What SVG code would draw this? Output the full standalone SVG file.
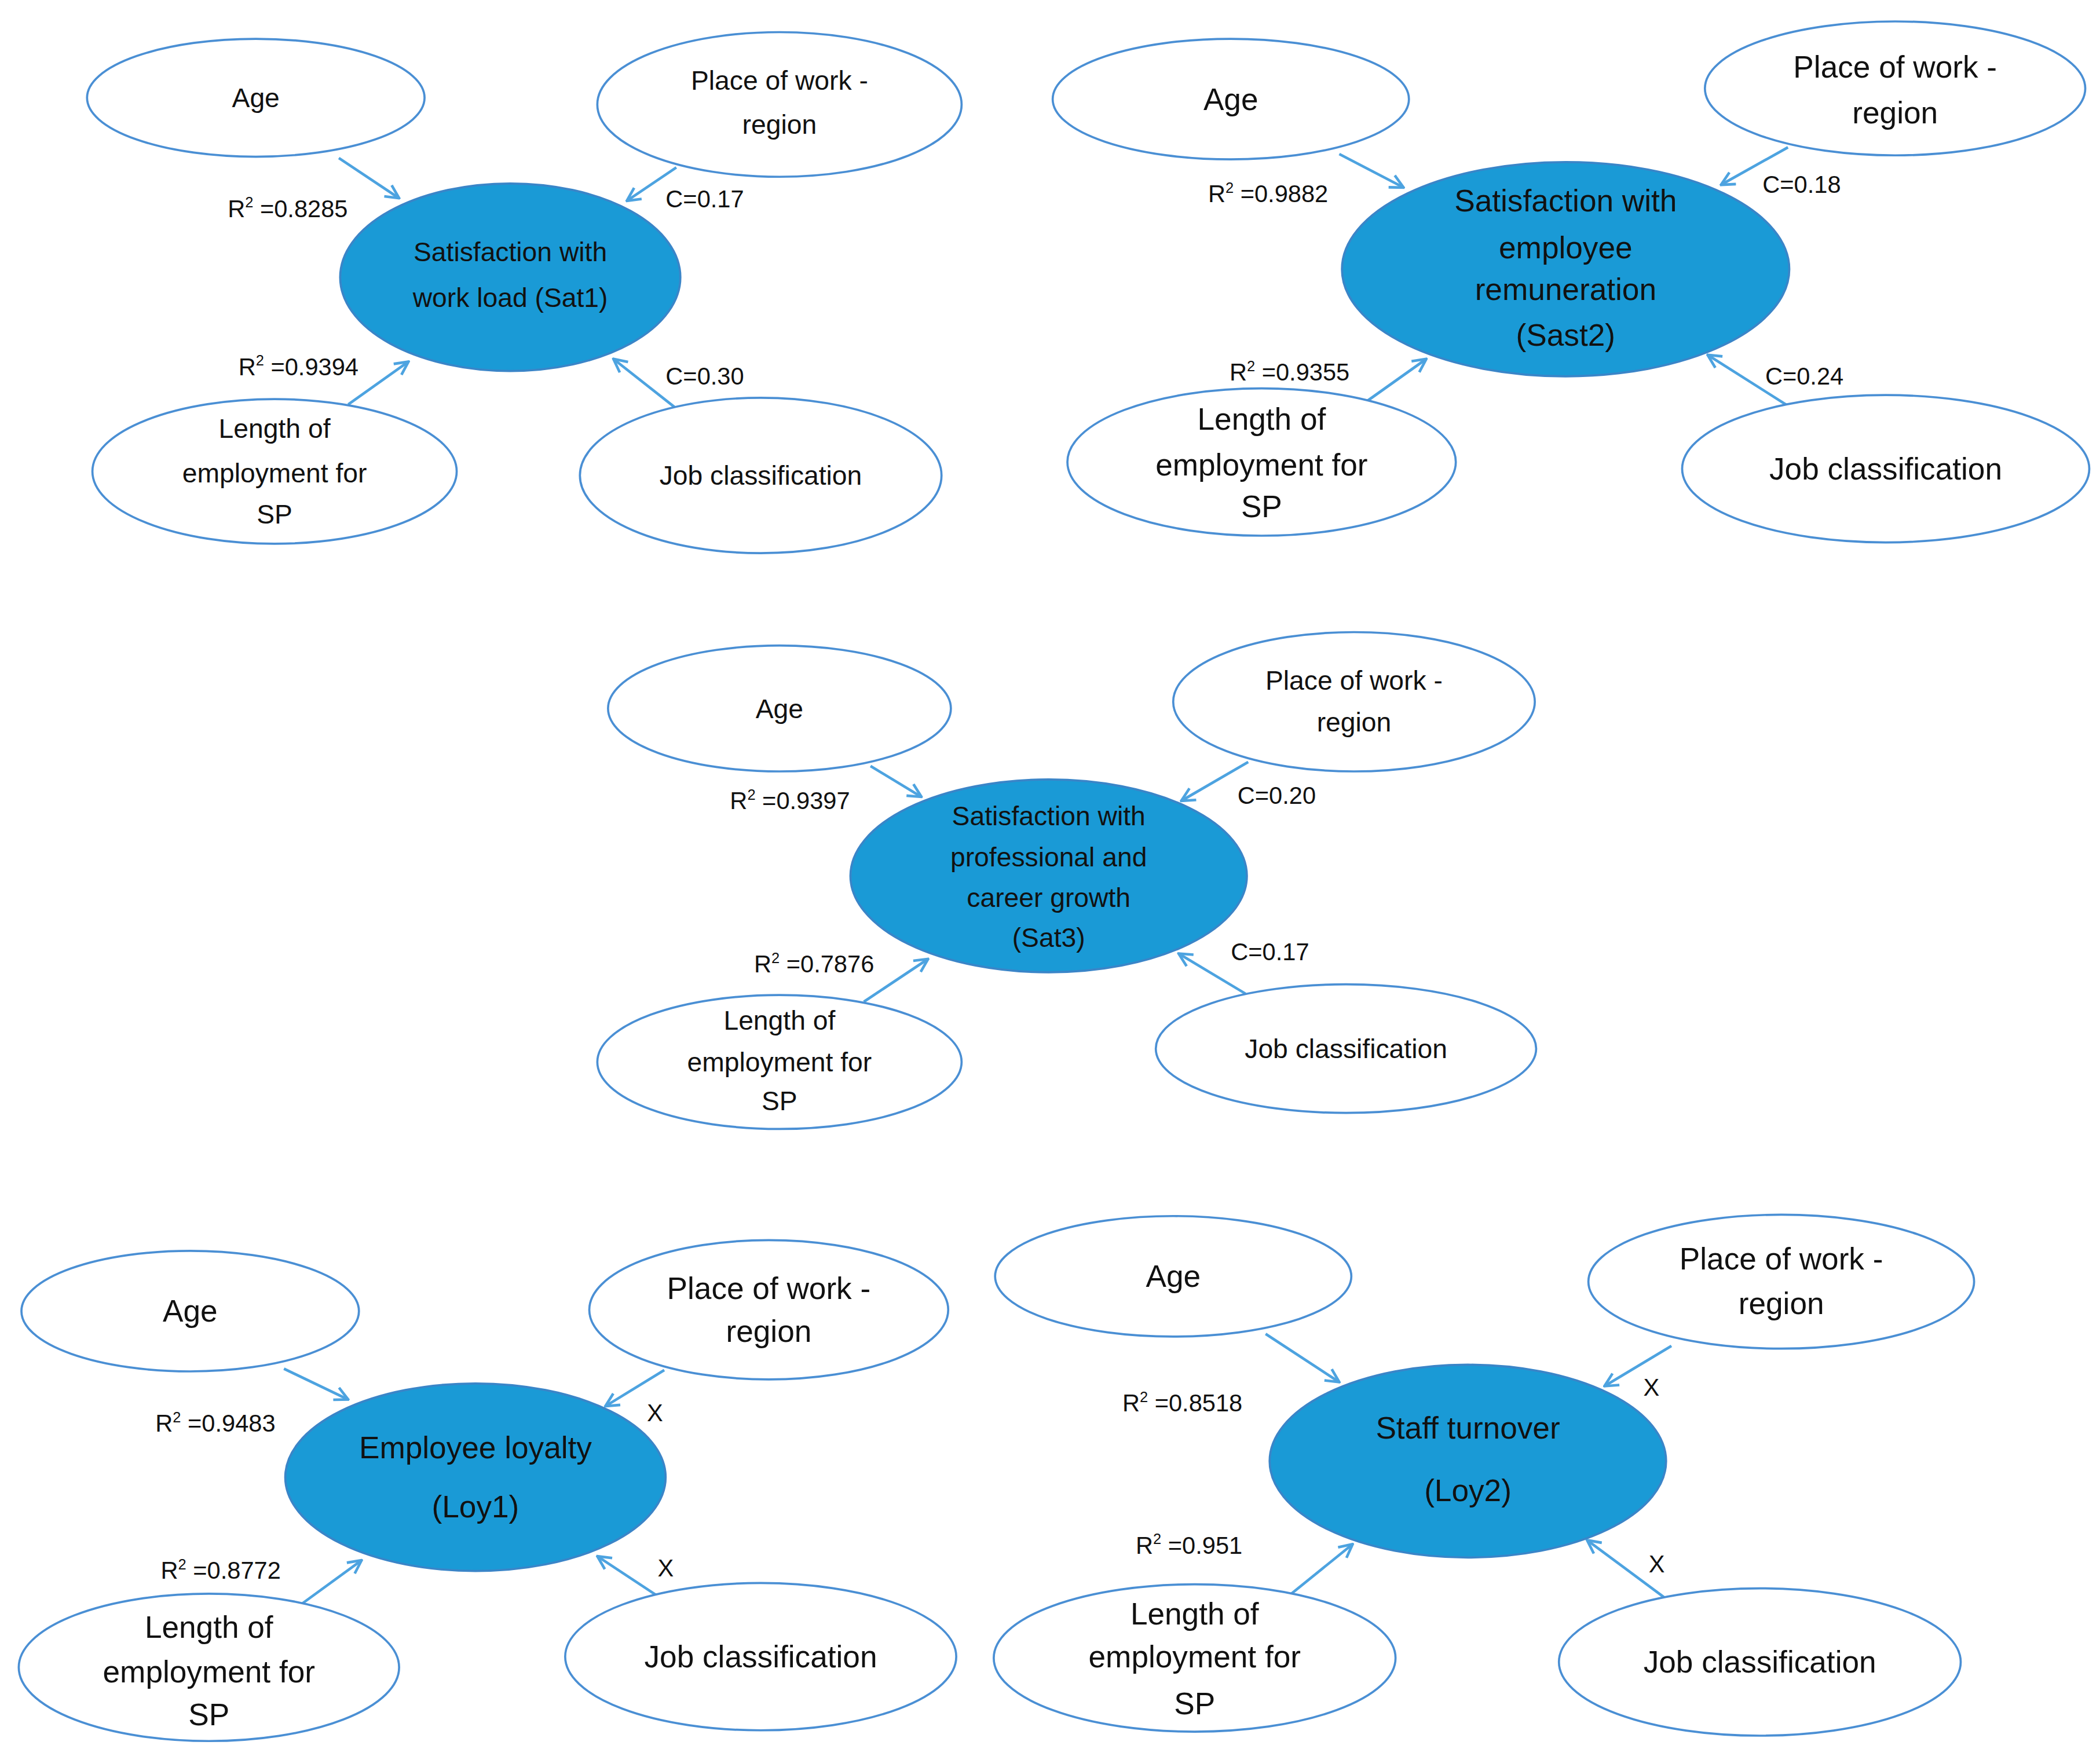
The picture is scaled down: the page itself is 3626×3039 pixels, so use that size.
<svg xmlns="http://www.w3.org/2000/svg" width="3626" height="3039" viewBox="0 0 3626 3039">
<style>
.o{fill:#fff;stroke:#4a8fd4;stroke-width:1.6}
.c{fill:#1a9ad6;stroke:#3a85c8;stroke-width:1.6}
text{font-family:"Liberation Sans",Arial,sans-serif;fill:#111;text-anchor:middle}
.s{font-size:20px}.b{font-size:23px}.l{font-size:18px;text-anchor:start}
.a{stroke:#4da3e0;stroke-width:2;fill:none;marker-end:url(#h)}
</style>
<defs><marker id="h" viewBox="0 0 12 12" refX="11" refY="6" markerWidth="12" markerHeight="12" markerUnits="userSpaceOnUse" orient="auto"><path d="M1,1 L11,6 L1,11" fill="none" stroke="#4da3e0" stroke-width="2"/></marker></defs>
<rect width="3626" height="3039" fill="#fff"/>
<g transform="scale(2.3125)">
<g id="connectors">
<line class="a" x1="253" y1="118" x2="298" y2="148"/><line class="a" x1="505" y1="125" x2="468" y2="150"/><line class="a" x1="260" y1="302" x2="305" y2="270"/><line class="a" x1="505" y1="305" x2="458" y2="268"/>
<line class="a" x1="1000" y1="115" x2="1048" y2="140"/><line class="a" x1="1335" y1="110" x2="1285" y2="138"/><line class="a" x1="1020" y1="300" x2="1065" y2="268"/><line class="a" x1="1335" y1="303" x2="1275" y2="265"/>
<line class="a" x1="650" y1="572" x2="688" y2="595"/><line class="a" x1="932" y1="569" x2="882" y2="598"/><line class="a" x1="645" y1="748" x2="693" y2="716"/><line class="a" x1="930" y1="742" x2="880" y2="712"/>
<line class="a" x1="212" y1="1022" x2="260" y2="1045"/><line class="a" x1="496" y1="1023" x2="452" y2="1050"/><line class="a" x1="222" y1="1200" x2="270" y2="1165"/><line class="a" x1="493" y1="1193" x2="446" y2="1162"/>
<line class="a" x1="945" y1="996" x2="1000" y2="1032"/><line class="a" x1="1248" y1="1005" x2="1198" y2="1035"/><line class="a" x1="958" y1="1195" x2="1010" y2="1153"/><line class="a" x1="1243" y1="1193" x2="1185" y2="1150"/>
</g>
<g id="labels">
<text class="l" x="170" y="162">R<tspan font-size="11" dy="-7">2</tspan><tspan dy="7"> =0.8285</tspan></text><text class="l" x="497" y="155">C=0.17</text>
<text class="l" x="178" y="280">R<tspan font-size="11" dy="-7">2</tspan><tspan dy="7"> =0.9394</tspan></text><text class="l" x="497" y="287">C=0.30</text>
<text class="l" x="902" y="151">R<tspan font-size="11" dy="-7">2</tspan><tspan dy="7"> =0.9882</tspan></text><text class="l" x="1316" y="144">C=0.18</text>
<text class="l" x="918" y="284">R<tspan font-size="11" dy="-7">2</tspan><tspan dy="7"> =0.9355</tspan></text><text class="l" x="1318" y="287">C=0.24</text>
<text class="l" x="545" y="604">R<tspan font-size="11" dy="-7">2</tspan><tspan dy="7"> =0.9397</tspan></text><text class="l" x="924" y="600">C=0.20</text>
<text class="l" x="563" y="726">R<tspan font-size="11" dy="-7">2</tspan><tspan dy="7"> =0.7876</tspan></text><text class="l" x="919" y="717">C=0.17</text>
<text class="l" x="116" y="1069">R<tspan font-size="11" dy="-7">2</tspan><tspan dy="7"> =0.9483</tspan></text><text class="l" x="483" y="1061">X</text>
<text class="l" x="120" y="1179">R<tspan font-size="11" dy="-7">2</tspan><tspan dy="7"> =0.8772</tspan></text><text class="l" x="491" y="1177">X</text>
<text class="l" x="838" y="1054">R<tspan font-size="11" dy="-7">2</tspan><tspan dy="7"> =0.8518</tspan></text><text class="l" x="1227" y="1042">X</text>
<text class="l" x="848" y="1160">R<tspan font-size="11" dy="-7">2</tspan><tspan dy="7"> =0.951</tspan></text><text class="l" x="1231" y="1174">X</text>
</g>
<g id="c1-age"><ellipse class="o" cx="191" cy="73" rx="126" ry="44"/><text class="s" x="191" y="80">Age</text></g>
<g id="c1-place"><ellipse class="o" cx="582" cy="78" rx="136" ry="54"/><text class="s" x="582" y="67">Place of work -</text><text class="s" x="582" y="100">region</text></g>
<g id="c1-center"><ellipse class="c" cx="381" cy="207" rx="127" ry="70"/><text class="s" x="381" y="195">Satisfaction with</text><text class="s" x="381" y="229">work load (Sat1)</text></g>
<g id="c1-len"><ellipse class="o" cx="205" cy="352" rx="136" ry="54"/><text class="s" x="205" y="327">Length of</text><text class="s" x="205" y="360">employment for</text><text class="s" x="205" y="391">SP</text></g>
<g id="c1-job"><ellipse class="o" cx="568" cy="355" rx="135" ry="58"/><text class="s" x="568" y="362">Job classification</text></g>
<g id="c2-age"><ellipse class="o" cx="919" cy="74" rx="133" ry="45"/><text class="b" x="919" y="82">Age</text></g>
<g id="c2-place"><ellipse class="o" cx="1415" cy="66" rx="142" ry="50"/><text class="b" x="1415" y="58">Place of work -</text><text class="b" x="1415" y="92">region</text></g>
<g id="c2-center"><ellipse class="c" cx="1169" cy="201" rx="167" ry="80"/><text class="b" x="1169" y="158">Satisfaction with</text><text class="b" x="1169" y="193">employee</text><text class="b" x="1169" y="224">remuneration</text><text class="b" x="1169" y="258">(Sast2)</text></g>
<g id="c2-len"><ellipse class="o" cx="942" cy="345" rx="145" ry="55"/><text class="b" x="942" y="321">Length of</text><text class="b" x="942" y="355">employment for</text><text class="b" x="942" y="386">SP</text></g>
<g id="c2-job"><ellipse class="o" cx="1408" cy="350" rx="152" ry="55"/><text class="b" x="1408" y="358">Job classification</text></g>
<g id="c3-age"><ellipse class="o" cx="582" cy="529" rx="128" ry="47"/><text class="s" x="582" y="536">Age</text></g>
<g id="c3-place"><ellipse class="o" cx="1011" cy="524" rx="135" ry="52"/><text class="s" x="1011" y="515">Place of work -</text><text class="s" x="1011" y="546">region</text></g>
<g id="c3-center"><ellipse class="c" cx="783" cy="654" rx="148" ry="72"/><text class="s" x="783" y="616">Satisfaction with</text><text class="s" x="783" y="647">professional and</text><text class="s" x="783" y="677">career growth</text><text class="s" x="783" y="707">(Sat3)</text></g>
<g id="c3-len"><ellipse class="o" cx="582" cy="793" rx="136" ry="50"/><text class="s" x="582" y="769">Length of</text><text class="s" x="582" y="800">employment for</text><text class="s" x="582" y="829">SP</text></g>
<g id="c3-job"><ellipse class="o" cx="1005" cy="783" rx="142" ry="48"/><text class="s" x="1005" y="790">Job classification</text></g>
<g id="c4-age"><ellipse class="o" cx="142" cy="979" rx="126" ry="45"/><text class="b" x="142" y="987">Age</text></g>
<g id="c4-place"><ellipse class="o" cx="574" cy="978" rx="134" ry="52"/><text class="b" x="574" y="970">Place of work -</text><text class="b" x="574" y="1002">region</text></g>
<g id="c4-center"><ellipse class="c" cx="355" cy="1103" rx="142" ry="70"/><text class="b" x="355" y="1089">Employee loyalty</text><text class="b" x="355" y="1133">(Loy1)</text></g>
<g id="c4-len"><ellipse class="o" cx="156" cy="1245" rx="142" ry="55"/><text class="b" x="156" y="1223">Length of</text><text class="b" x="156" y="1256">employment for</text><text class="b" x="156" y="1288">SP</text></g>
<g id="c4-job"><ellipse class="o" cx="568" cy="1237" rx="146" ry="55"/><text class="b" x="568" y="1245">Job classification</text></g>
<g id="c5-age"><ellipse class="o" cx="876" cy="953" rx="133" ry="45"/><text class="b" x="876" y="961">Age</text></g>
<g id="c5-place"><ellipse class="o" cx="1330" cy="957" rx="144" ry="50"/><text class="b" x="1330" y="948">Place of work -</text><text class="b" x="1330" y="981">region</text></g>
<g id="c5-center"><ellipse class="c" cx="1096" cy="1091" rx="148" ry="72"/><text class="b" x="1096" y="1074">Staff turnover</text><text class="b" x="1096" y="1121">(Loy2)</text></g>
<g id="c5-len"><ellipse class="o" cx="892" cy="1238" rx="150" ry="55"/><text class="b" x="892" y="1213">Length of</text><text class="b" x="892" y="1245">employment for</text><text class="b" x="892" y="1280">SP</text></g>
<g id="c5-job"><ellipse class="o" cx="1314" cy="1241" rx="150" ry="55"/><text class="b" x="1314" y="1249">Job classification</text></g>
</g>
</svg>
